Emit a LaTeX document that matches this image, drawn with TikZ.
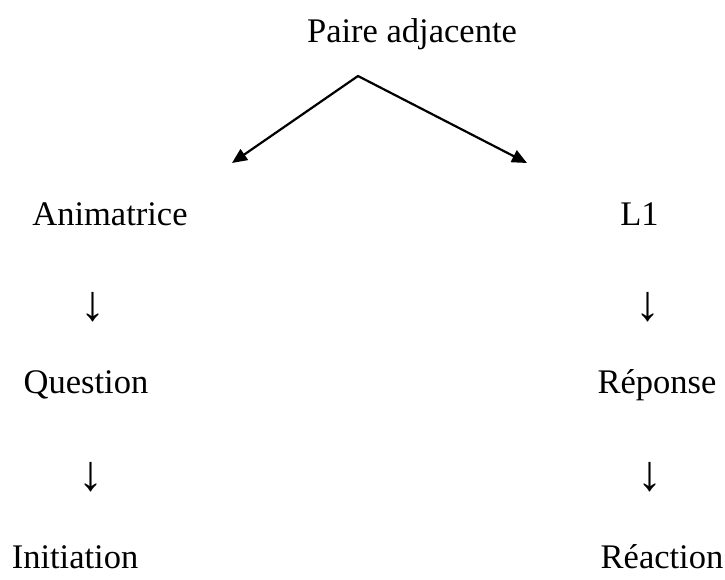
\documentclass[tikz,border=0pt]{standalone}
\usepackage{fontspec}
\setmainfont{Liberation Serif}
\usetikzlibrary{arrows.meta}
\tikzset{
  rot/.style={font=\fontsize{17.25}{20}\selectfont,inner sep=0pt,outer sep=0pt},
  bas/.style={font=\fontsize{25}{29}\selectfont,inner sep=0pt,outer sep=0pt},
  fleche/.style={line width=1.1pt,{Triangle[length=7.5pt,width=6.5pt]}-{Triangle[length=7.5pt,width=6.5pt]}},
}
\begin{document}
\begin{tikzpicture}[x=0.5pt,y=-0.5pt]
  \useasboundingbox (0,0) rectangle (725,580);
  % --- titre et bifurcation
  \node[rot,anchor=base] (paire) at (412,42) {Paire adjacente};
  \coordinate (sommet) at (358,76);
  \coordinate (boutg) at (232,163);
  \coordinate (boutd) at (527,163);
  \draw[fleche] (boutg) -- (sommet) -- (boutd);
  % --- colonne gauche
  \node[rot,anchor=base] (anim) at (110,225) {Animatrice};
  \node[bas] (fg1) at (93,307) {↓};
  \node[rot,anchor=base] (quest) at (86,393) {Question};
  \node[bas] (fg2) at (91,477) {↓};
  \node[rot,anchor=base] (init) at (75,568) {Initiation};
  % --- colonne droite
  \node[rot,anchor=base] (loc) at (639.5,225) {L1};
  \node[bas] (fd1) at (648,307) {↓};
  \node[rot,anchor=base] (rep) at (657,393) {Réponse};
  \node[bas] (fd2) at (650,477) {↓};
  \node[rot,anchor=base] (reac) at (662,568) {Réaction};
\end{tikzpicture}
\end{document}
